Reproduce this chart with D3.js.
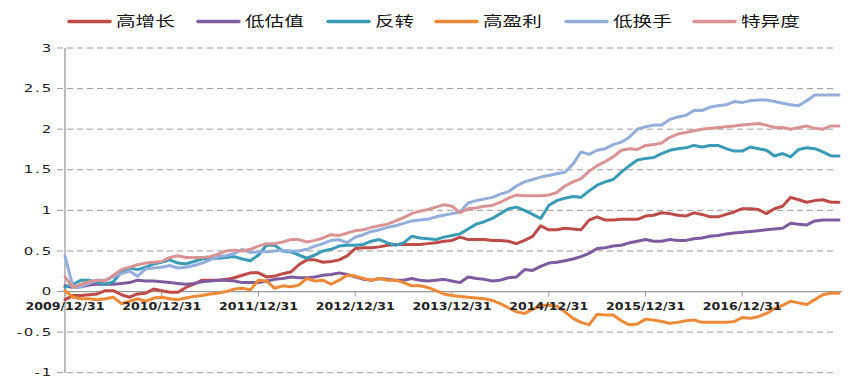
<!DOCTYPE html>
<html>
<head>
<meta charset="utf-8">
<script src="https://cdn.jsdelivr.net/npm/d3@7"></script>
<style>
  body { margin: 0; background: #fff; }
  svg { display: block; }
</style>
</head>
<body>
<div id="chart"></div>
<script>
// monthly points, 2009/12 .. 2017/12
const seriesNames = ["高增长", "低估值", "反转", "高盈利", "低换手", "特异度"]
const seriesColors = ["#bd4b48", "#7c5c9f", "#3a9bb7", "#ee8a37", "#93aedb", "#da9394"]

const tickLabels = ["2009/12/31", "2010/12/31", "2011/12/31", "2012/12/31", "2013/12/31", "2014/12/31", "2015/12/31", "2016/12/31"]
const yTicks = [-1, -0.5, 0, 0.5, 1, 1.5, 2, 2.5, 3]

const highGrowth = [-0.1, -0.05, -0.05, -0.04, -0.03, 0.01, 0.01, -0.04, -0.07, -0.03, -0.02, 0.03, 0.01, -0.01, -0.01, 0.05,
  0.09, 0.14, 0.14, 0.14, 0.15, 0.17, 0.2, 0.23, 0.23, 0.18, 0.19, 0.22, 0.24, 0.33, 0.39, 0.39, 0.36, 0.37, 0.39, 0.44,
  0.53, 0.54, 0.54, 0.55, 0.57, 0.58, 0.58, 0.58, 0.58, 0.59, 0.6, 0.62, 0.63, 0.67, 0.64, 0.64, 0.64, 0.63, 0.63, 0.62,
  0.59, 0.63, 0.68, 0.81, 0.76, 0.76, 0.78, 0.77, 0.76, 0.88, 0.92, 0.88, 0.88, 0.89, 0.89, 0.89, 0.93, 0.94, 0.97, 0.96,
  0.94, 0.93, 0.97, 0.95, 0.92, 0.92, 0.95, 0.98, 1.02, 1.02, 1.01, 0.96, 1.02, 1.05, 1.16, 1.13, 1.1, 1.12, 1.13, 1.1, 1.1]

const lowValuation = [0.07, 0.05, 0.06, 0.08, 0.09, 0.09, 0.09, 0.1, 0.11, 0.14, 0.13, 0.13, 0.12, 0.11, 0.1, 0.09,
  0.1, 0.12, 0.13, 0.14, 0.14, 0.13, 0.11, 0.11, 0.11, 0.13, 0.15, 0.16, 0.18, 0.17, 0.17, 0.18, 0.2, 0.21, 0.23, 0.21,
  0.18, 0.15, 0.14, 0.16, 0.15, 0.14, 0.14, 0.16, 0.14, 0.13, 0.14, 0.15, 0.13, 0.11, 0.18, 0.16, 0.15, 0.13, 0.14, 0.17,
  0.18, 0.27, 0.26, 0.31, 0.35, 0.36, 0.38, 0.4, 0.43, 0.47, 0.53, 0.54, 0.56, 0.57, 0.6, 0.62, 0.64, 0.62, 0.62, 0.64,
  0.63, 0.63, 0.65, 0.66, 0.68, 0.69, 0.71, 0.72, 0.73, 0.74, 0.75, 0.76, 0.77, 0.78, 0.84, 0.83, 0.82, 0.87, 0.88, 0.88, 0.88]

const reversal = [0.05, 0.09, 0.14, 0.14, 0.11, 0.09, 0.12, 0.24, 0.29, 0.27, 0.3, 0.34, 0.36, 0.39, 0.35, 0.34,
  0.37, 0.4, 0.41, 0.41, 0.42, 0.43, 0.4, 0.38, 0.45, 0.57, 0.57, 0.5, 0.49, 0.45, 0.41, 0.45, 0.5, 0.52, 0.56, 0.57,
  0.57, 0.58, 0.62, 0.64, 0.6, 0.57, 0.6, 0.68, 0.66, 0.65, 0.64, 0.67, 0.69, 0.71, 0.77, 0.83, 0.86, 0.9, 0.96, 1.02,
  1.04, 1.0, 0.95, 0.9, 1.06, 1.12, 1.15, 1.17, 1.16, 1.24, 1.31, 1.35, 1.38, 1.47, 1.55, 1.62, 1.64, 1.65, 1.7, 1.74,
  1.76, 1.77, 1.8, 1.78, 1.8, 1.8, 1.76, 1.73, 1.73, 1.78, 1.76, 1.74, 1.67, 1.7, 1.66, 1.75, 1.77, 1.76, 1.72, 1.67, 1.67]

const highProfit = [0.01, -0.07, -0.09, -0.09, -0.1, -0.09, -0.07, -0.15, -0.12, -0.09, -0.12, -0.08, -0.07, -0.09, -0.1, -0.08,
  -0.06, -0.05, -0.03, -0.02, 0.0, 0.03, 0.04, 0.02, 0.14, 0.13, 0.04, 0.07, 0.06, 0.08, 0.16, 0.13, 0.14, 0.09, 0.14, 0.2,
  0.19, 0.16, 0.14, 0.16, 0.14, 0.14, 0.11, 0.07, 0.07, 0.05, 0.01, -0.03, -0.05, -0.06, -0.07, -0.08, -0.09, -0.11, -0.15, -0.2,
  -0.25, -0.27, -0.22, -0.17, -0.17, -0.18, -0.25, -0.33, -0.38, -0.41, -0.28, -0.29, -0.29, -0.36, -0.41, -0.4, -0.34, -0.35, -0.37, -0.39,
  -0.38, -0.36, -0.35, -0.38, -0.38, -0.38, -0.38, -0.37, -0.32, -0.33, -0.31, -0.27, -0.21, -0.17, -0.12, -0.14, -0.16, -0.1, -0.04, -0.02, -0.02]

const lowTurnover = [0.44, 0.05, 0.06, 0.1, 0.14, 0.14, 0.18, 0.22, 0.25, 0.19, 0.28, 0.29, 0.3, 0.32, 0.29, 0.3,
  0.32, 0.35, 0.39, 0.43, 0.44, 0.47, 0.52, 0.48, 0.49, 0.49, 0.5, 0.51, 0.5, 0.5, 0.52, 0.56, 0.59, 0.63, 0.64, 0.6,
  0.67, 0.7, 0.74, 0.76, 0.79, 0.81, 0.84, 0.87, 0.88, 0.89, 0.92, 0.94, 0.96, 0.98, 1.09, 1.12, 1.14, 1.16, 1.2, 1.23,
  1.3, 1.35, 1.38, 1.41, 1.43, 1.45, 1.47, 1.57, 1.72, 1.69, 1.74, 1.76, 1.81, 1.84, 1.9, 2.0, 2.03, 2.05, 2.05, 2.12,
  2.15, 2.17, 2.23, 2.23, 2.27, 2.29, 2.3, 2.34, 2.33, 2.35, 2.36, 2.36, 2.34, 2.32, 2.3, 2.29, 2.35, 2.42, 2.42, 2.42, 2.42]

const idioVol = [0.18, 0.05, 0.09, 0.12, 0.14, 0.13, 0.2, 0.27, 0.3, 0.33, 0.35, 0.36, 0.37, 0.42, 0.44, 0.42,
  0.42, 0.42, 0.43, 0.46, 0.5, 0.51, 0.5, 0.52, 0.56, 0.59, 0.59, 0.61, 0.64, 0.64, 0.61, 0.63, 0.66, 0.7, 0.69, 0.72,
  0.75, 0.76, 0.79, 0.81, 0.83, 0.87, 0.91, 0.96, 0.99, 1.01, 1.04, 1.07, 1.05, 0.97, 1.02, 1.03, 1.05, 1.06, 1.1, 1.15,
  1.19, 1.18, 1.18, 1.18, 1.19, 1.22, 1.3, 1.35, 1.39, 1.48, 1.55, 1.6, 1.66, 1.74, 1.76, 1.75, 1.8, 1.81, 1.83, 1.9,
  1.94, 1.96, 1.98, 2.0, 2.01, 2.02, 2.03, 2.04, 2.05, 2.06, 2.07, 2.05, 2.02, 2.02, 2.0, 2.02, 2.04, 2.01, 2.0, 2.04, 2.04]

const allSeries = [highGrowth, lowValuation, reversal, highProfit, lowTurnover, idioVol]

const width = 864
const height = 388
const margin = { left: 65, top: 48, bottom: 373 }
const gridRight = 836

const svg = d3.select("#chart").append("svg")
  .attr("width", width)
  .attr("height", height)

const x = d3.scaleLinear().domain([0, 96]).range([margin.left, 839])
const y = d3.scaleLinear().domain([-1, 3]).range([372.7, 48])

// dashed grid lines, including the short tick stub left of the axis
svg.append("g")
  .selectAll("line")
  .data(yTicks.filter(d => d !== 0))
  .enter().append("line")
  .attr("x1", 57)
  .attr("x2", gridRight)
  .attr("y1", d => y(d))
  .attr("y2", d => y(d))
  .attr("stroke", "#9a9a9a")
  .attr("stroke-width", 1)
  .attr("stroke-dasharray", "6,4")

svg.append("line")
  .attr("x1", 57).attr("x2", margin.left)
  .attr("y1", y(0)).attr("y2", y(0))
  .attr("stroke", "#9a9a9a")

// y axis labels (text in the original is stretched wide)
svg.append("g")
  .selectAll("g")
  .data(yTicks)
  .enter().append("g")
  .attr("transform", d => "translate(53," + (y(d) + 3.6) + ") scale(1.5,1)")
  .append("text")
  .attr("text-anchor", "end")
  .style("font-family", "DejaVu Sans")
  .style("font-size", "10px")
  .style("letter-spacing", "1.2px")
  .attr("fill", "#222")
  .text(d => d)

// vertical axis and zero line
svg.append("line")
  .attr("x1", margin.left).attr("x2", margin.left)
  .attr("y1", 48).attr("y2", 373)
  .attr("stroke", "#999")
  .attr("stroke-width", 1.3)

svg.append("line")
  .attr("x1", margin.left).attr("x2", 842)
  .attr("y1", y(0)).attr("y2", y(0))
  .attr("stroke", "#999")
  .attr("stroke-width", 1.3)

// year ticks and labels
svg.append("g")
  .selectAll("line")
  .data(tickLabels)
  .enter().append("line")
  .attr("x1", (d, i) => x(i * 12))
  .attr("x2", (d, i) => x(i * 12))
  .attr("y1", y(0))
  .attr("y2", y(0) + 5)
  .attr("stroke", "#999")

// lines
const line = d3.line()
  .x((d, i) => x(i))
  .y(d => y(d))

svg.append("g")
  .selectAll("path")
  .data(allSeries)
  .enter().append("path")
  .attr("d", line)
  .attr("fill", "none")
  .attr("stroke", (d, i) => seriesColors[i])
  .attr("stroke-width", 3)
  .attr("stroke-linejoin", "round")
  .attr("stroke-linecap", "round")

svg.append("g")
  .selectAll("g")
  .data(tickLabels)
  .enter().append("g")
  .attr("transform", (d, i) => "translate(" + x(i * 12) + "," + (y(0) + 18) + ") scale(1.2,1)")
  .append("text")
  .attr("text-anchor", "middle")
  .style("font-family", "DejaVu Sans")
  .style("font-weight", "bold")
  .style("font-size", "10.5px")
  .attr("fill", "#222")
  .text(d => d)

// legend
const legendX = [68, 197, 327, 435, 565, 693]

const legend = svg.append("g")
  .selectAll("g")
  .data(seriesNames)
  .enter().append("g")
  .attr("transform", (d, i) => "translate(" + legendX[i] + ",0)")

legend.append("line")
  .attr("x1", 1).attr("x2", 42)
  .attr("y1", 21.5).attr("y2", 21.5)
  .attr("stroke", (d, i) => seriesColors[i])
  .attr("stroke-width", 3.5)
  .attr("stroke-linecap", "round")

legend.append("g")
  .attr("transform", "translate(48,25.5) scale(1.4,1)")
  .append("text")
  .style("font-family", "Noto Sans CJK SC")
  .style("font-size", "14px")
  .attr("fill", "#111")
  .text(d => d)
</script>
</body>
</html>
